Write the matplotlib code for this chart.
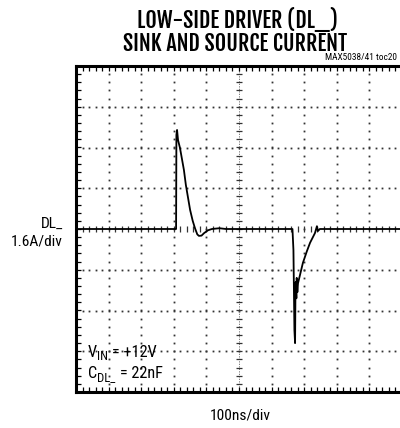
import matplotlib
matplotlib.use("Agg")
import matplotlib.pyplot as plt
import numpy as np
from matplotlib import font_manager
from matplotlib.ft2font import FT2Font

# ---- data ----
time_ns = [0, 307, 308, 310, 313, 319, 331, 337, 350, 358, 365, 372, 377, 385, 393, 405, 417,
           440, 460, 664, 667, 670, 672, 673, 674, 676, 677, 679, 681, 696, 708, 718, 733,
           739, 742, 748, 1000]
current_A = [0, 0, 3.70, 3.89, 3.49, 3.18, 2.32, 1.73, 0.75, 0.32, 0.03, -0.21, -0.27, -0.26,
             -0.16, -0.05, 0, 0.03, 0, 0, -0.83, -3.97, -4.48, -2.78, -2.08, -2.72, -1.92,
             -2.48, -2.13, -1.33, -0.88, -0.54, -0.16, 0.11, -0.08, 0, 0]

x_div = 100.0   # ns/div
y_div = 1.6     # A/div
n_xdiv = 10
n_ydiv = 8

title_lines = ["LOW-SIDE DRIVER (DL_)", "SINK AND SOURCE CURRENT"]
toc_label = "MAX5038/41 toc20"
y_label = ["DL_", "1.6A/div"]
x_label = "100ns/div"
cond_lines = [("V", "IN", "= +12V"), ("C", "DL_", "= 22nF")]

avail = {f.name for f in font_manager.fontManager.ttflist}
narrow = next((n for n in ["Roboto Condensed", "Archivo Narrow", "Open Sans Condensed"]
               if n in avail), "DejaVu Sans")
if "Fjalla One" in avail:
    title_font, title_weight = "Fjalla One", "normal"
else:
    title_font, title_weight = narrow, "bold"
plt.rcParams['font.family'] = [narrow, 'DejaVu Sans']


def size_for_cap(family, weight, cap_px):
    fp = font_manager.FontProperties(family=family, weight=weight)
    try:
        f = FT2Font(font_manager.findfont(fp))
        os2 = f.get_sfnt_table('OS/2')
        r = os2['sCapHeight'] / f.units_per_EM if os2 and os2.get('sCapHeight') else 0.71
    except Exception:
        r = 0.71
    return cap_px / r * 0.72


W, H = 400, 428
fig = plt.figure(figsize=(W / 100, H / 100), dpi=100)
renderer = fig.canvas.get_renderer()


def px(x, y):
    return x / W, 1 - y / H


L, T, R, B = 76, 66, 402, 392
ax = fig.add_axes([L / W, 1 - B / H, (R - L) / W, (B - T) / H])
xmin, xmax = 0, n_xdiv * x_div
ymin, ymax = -n_ydiv / 2 * y_div, n_ydiv / 2 * y_div
ax.set_xlim(xmin, xmax)
ax.set_ylim(ymin, ymax)
ax.set_xticks([])
ax.set_yticks([])
for s in ax.spines.values():
    s.set_linewidth(2.2)
    s.set_color('black')

minor_x = np.arange(xmin, xmax + 1e-6, x_div / 5)
minor_y = np.arange(ymin, ymax + 1e-6, y_div / 5)
major_x = np.arange(xmin + x_div, xmax - 1e-6, x_div)
major_y = np.arange(ymin + y_div, ymax - 1e-6, y_div)
cx = (xmin + xmax) / 2
cy = 0.0

dot_kw = dict(color='#333333', marker='s', markersize=1.3, linestyle='none', markeredgewidth=0)
for gx in major_x:
    if abs(gx - cx) < 1e-6:
        continue
    ax.plot(np.full_like(minor_y, gx), minor_y, **dot_kw)
for gy in major_y:
    if abs(gy - cy) < 1e-6:
        continue
    ax.plot(minor_x, np.full_like(minor_x, gy), **dot_kw)

# central axes with cross ticks
ax.axvline(cx, color='#666666', lw=0.6, linestyle=(0, (1.5, 1.5)))
ax.plot(np.full_like(minor_y, cx), minor_y, color='#333333', marker='_', markersize=5,
        markeredgewidth=0.9, linestyle='none')
ax.plot(minor_x, np.full_like(minor_x, cy), color='#333333', marker='|', markersize=5,
        markeredgewidth=0.9, linestyle='none')

# frame ticks (inward)
tick_kw = dict(color='black', markersize=3.5, markeredgewidth=0.9, linestyle='none', clip_on=False)
ax.plot(np.full_like(minor_y, xmin), minor_y, marker=1, **tick_kw)
ax.plot(minor_x, np.full_like(minor_x, ymax), marker=3, **tick_kw)
ax.plot(minor_x, np.full_like(minor_x, ymin), marker=2, **tick_kw)

# trace
ax.plot(time_ns, current_A, color='black', lw=1.3, solid_joinstyle='round')

# titles
ts = size_for_cap(title_font, title_weight, 14.3)
tkw = dict(ha='center', va='baseline', family=[title_font, 'DejaVu Sans'], fontweight=title_weight)
t1 = fig.text(*px(237, 27.8), title_lines[0], fontsize=ts, **tkw)
t2 = fig.text(*px(235, 50.7), title_lines[1], fontsize=ts, **tkw)
w2 = t2.get_window_extent(renderer).width
if abs(w2 - 224) > 10:
    ts2 = ts * 224 / w2
    t1.set_fontsize(ts2)
    t2.set_fontsize(ts2)

rs = size_for_cap(narrow, 'normal', 11.0)
cs = size_for_cap(narrow, 'normal', 11.5)
fig.text(*px(325, 60), toc_label, ha='left', va='baseline', fontsize=size_for_cap(narrow, 'normal', 6.7))
fig.text(*px(63, 228), y_label[0], ha='right', va='baseline', fontsize=rs)
fig.text(*px(63, 246), y_label[1], ha='right', va='baseline', fontsize=rs)
fig.text(*px(240, 419.5), x_label, ha='center', va='baseline', fontsize=rs)

# condition text with hand-set subscripts
for (main, sub, rest), base in zip(cond_lines, [357, 378]):
    x = 88
    a = fig.text(*px(x, base), main, ha='left', va='baseline', fontsize=cs)
    x += a.get_window_extent(renderer).width
    b = fig.text(*px(x, base + 3), sub, ha='left', va='baseline', fontsize=cs * 0.78)
    x += b.get_window_extent(renderer).width + 4
    fig.text(*px(x, base), rest, ha='left', va='baseline', fontsize=cs)

fig.savefig("out.png", dpi=100)
